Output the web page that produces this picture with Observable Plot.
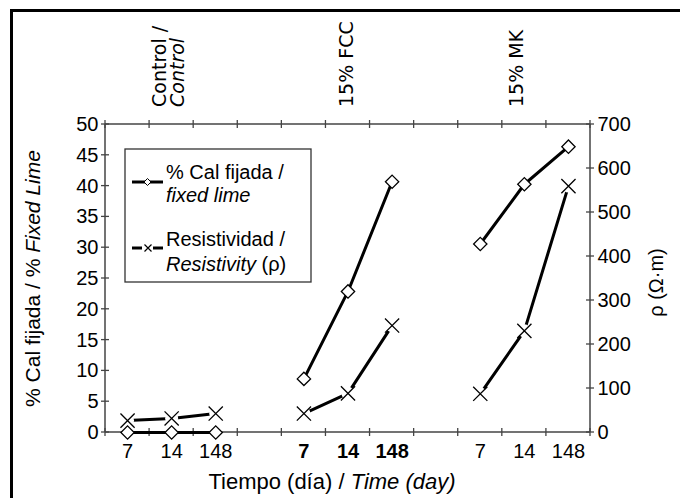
<!DOCTYPE html>
<html>
<head>
<meta charset="utf-8">
<script src="https://cdn.jsdelivr.net/npm/d3@7"></script>
<script src="https://cdn.jsdelivr.net/npm/@observablehq/plot@0.6"></script>
<style>
  html, body { margin: 0; padding: 0; background: #fff; }
  #wrap { position: relative; width: 680px; height: 498px; overflow: hidden; }
  #bt { position: absolute; left: 10px; top: 9px; right: 0; height: 3px; background: #000; }
  #bl { position: absolute; left: 10px; top: 9px; width: 3px; bottom: 0; background: #000; }
  svg text { font-family: "Liberation Sans", Arial, sans-serif; }
</style>
</head>
<body>
<div id="wrap"><div id="bt"></div><div id="bl"></div></div>
<script>
// ---- data ----
const groups = ["Control", "15% FCC", "15% MK"];
const days = ["7", "14", "148"];
const fixedLime = [[0, 0, 0], [8.7, 22.9, 40.7], [30.6, 40.3, 46.4]];      // %
const resistivity = [[27, 32, 43], [43, 89, 243], [88, 231, 560]];         // Ω·m
const leftTicks = [0, 5, 10, 15, 20, 25, 30, 35, 40, 45, 50];
const rightTicks = [0, 100, 200, 300, 400, 500, 600, 700];
const groupLabels = [["Control /", "Control"], ["15% FCC"], ["15% MK"]];

// 11 slots: 3 per group, one empty slot between groups
const slot = (g, d) => g * 4 + d + 0.5;
const ratio = 50 / 700;
const rows = [];
groups.forEach((g, gi) => days.forEach((d, di) => {
  rows.push({group: g, gi, day: d, x: slot(gi, di), lime: fixedLime[gi][di], res: resistivity[gi][di] * ratio});
}));
const centers = rows.map(r => r.x);
const labelOf = new Map(rows.map(r => [r.x, r.day]));

const W = 680, H = 498, FS = 20;
const ns = "http://www.w3.org/2000/svg";
function el(tag, attrs, text) {
  const e = document.createElementNS(ns, tag);
  for (const k in attrs) e.setAttribute(k, attrs[k]);
  if (text != null) e.textContent = text;
  return e;
}

// frame with crossing ticks
const frameMark = (index, scales, values, dim) => {
  const g = el("g", {});
  const x0 = dim.marginLeft, x1 = dim.width - dim.marginRight;
  const y0 = dim.marginTop, y1 = dim.height - dim.marginBottom;
  const col = "#444";
  const line = (a, b, c, d, w = 1.5) => g.appendChild(el("line", {x1: a, y1: b, x2: c, y2: d, stroke: col, "stroke-width": w}));
  line(x0, y0, x1, y0); line(x0, y1, x1, y1); line(x0, y0, x0, y1); line(x1, y0, x1, y1);
  for (let i = 0; i <= 11; i++) {
    const px = scales.x(i);
    line(px, y0 - 4, px, y0 + 4, 1.3);
    line(px, y1 - 4, px, y1 + 4, 1.3);
  }
  for (const t of leftTicks) { const py = scales.y(t); line(x0 - 4, py, x0 + 4, py, 1.3); }
  for (const t of rightTicks) { const py = scales.y(t * ratio); line(x1 - 4, py, x1 + 4, py, 1.3); }
  return g;
};

// group labels (rotated) above the plot, centred over each group's middle slot
const groupLabelMark = (index, scales) => {
  const g = el("g", {"font-size": 19, fill: "#000", "text-anchor": "start"});
  const offs = [-3, -2, -8];
  groupLabels.forEach((lines, gi) => {
    const xc = scales.x(slot(gi, 1)) + offs[gi];
    lines.forEach((t, li) => {
      const cx = xc + (li - (lines.length - 1) / 2) * 17.5;
      const tx = el("text", {transform: `translate(${cx + 7},107) rotate(-90)`, "text-anchor": "start",
        style: "font-family: 'DejaVu Sans', Verdana, sans-serif"}, t);
      if (li === 1) tx.setAttribute("font-style", "italic");
      g.appendChild(tx);
    });
  });
  return g;
};

// legend box
const legendMark = () => {
  const g = el("g", {"font-size": FS, "text-anchor": "start"});
  g.appendChild(el("rect", {x: 125, y: 149, width: 186, height: 133, fill: "#fff", stroke: "#333", "stroke-width": 1.3}));
  g.appendChild(el("line", {x1: 132, y1: 182, x2: 163, y2: 182, stroke: "#000", "stroke-width": 3}));
  g.appendChild(el("path", {d: "M147.5,178.5 L151,182 L147.5,185.5 L144,182 Z", fill: "#fff", stroke: "#000", "stroke-width": 1}));
  g.appendChild(el("line", {x1: 132, y1: 248, x2: 142, y2: 248, stroke: "#000", "stroke-width": 3}));
  g.appendChild(el("line", {x1: 153, y1: 248, x2: 163, y2: 248, stroke: "#000", "stroke-width": 3}));
  g.appendChild(el("path", {d: "M144.5,244.5 L151.5,251.5 M151.5,244.5 L144.5,251.5", stroke: "#000", "stroke-width": 1.2}));
  g.appendChild(el("text", {x: 166, y: 179, "text-anchor": "start"}, "% Cal fijada /"));
  g.appendChild(el("text", {x: 166, y: 202, "text-anchor": "start", "font-style": "italic"}, "fixed lime"));
  g.appendChild(el("text", {x: 166, y: 246, "text-anchor": "start"}, "Resistividad /"));
  const t = el("text", {x: 166, y: 271, "text-anchor": "start"});
  t.appendChild(el("tspan", {"font-style": "italic"}, "Resistivity"));
  t.appendChild(el("tspan", {}, " (ρ)"));
  g.appendChild(t);
  return g;
};

const chart = Plot.plot({
  width: W, height: H,
  marginLeft: 105, marginRight: 90, marginTop: 124, marginBottom: 66,
  style: {fontFamily: "Liberation Sans, Arial, sans-serif", fontSize: FS + "px", color: "#000", background: "transparent", overflow: "visible"},
  x: {type: "linear", domain: [0, 11]},
  y: {domain: [0, 50]},
  marks: [
    frameMark,
    Plot.axisY({ticks: leftTicks, tickSize: 0, tickPadding: 7, label: null, fontSize: FS}),
    Plot.axisY({anchor: "right", ticks: rightTicks.map(v => v * ratio), tickFormat: d => Math.round(d / ratio), tickSize: 0, tickPadding: 7, label: null, fontSize: FS}),
    Plot.axisX({ticks: centers, tickFormat: d => labelOf.get(d), tickSize: 0, tickPadding: 11, label: null, fontSize: FS}),
    Plot.line(rows, {x: "x", y: "res", z: "group", stroke: "#000", strokeWidth: 3}),
    Plot.dot(rows, {x: "x", y: "res", r: 6.5, fill: "#fff", stroke: "none"}),
    Plot.dot(rows, {x: "x", y: "res", symbol: "times", r: 6.5, stroke: "#000", strokeWidth: 1.3}),
    Plot.line(rows, {x: "x", y: "lime", z: "group", stroke: "#000", strokeWidth: 3}),
    Plot.dot(rows, {x: "x", y: "lime", symbol: "diamond2", r: 6, fill: "#fff", stroke: "#000", strokeWidth: 1.3}),
    Plot.text(["% Cal fijada / % Fixed Lime"], {frameAnchor: "left", textAnchor: "middle", dx: -72, rotate: -90, fontSize: 21}),
    Plot.text(["ρ (Ω·m)"], {frameAnchor: "right", textAnchor: "middle", dx: 66, dy: 4, rotate: -90, fontSize: 20}),
    groupLabelMark,
    legendMark
  ]
});
document.getElementById("wrap").appendChild(chart);
chart.style.position = "absolute"; chart.style.left = "0"; chart.style.top = "0";

// bold FCC tick labels; italic part of x title
const tickTexts = chart.querySelectorAll("g[aria-label='x-axis tick label'] text");
tickTexts.forEach((t, i) => { if (i >= 3 && i < 6) t.setAttribute("font-weight", "bold"); });
const xt = el("text", {x: 332, y: 489, "text-anchor": "middle", "font-size": 22});
xt.appendChild(el("tspan", {}, "Tiempo (día) / "));
xt.appendChild(el("tspan", {"font-style": "italic"}, "Time (day)"));
chart.appendChild(xt);
// italic part of left y title
const yl = [...chart.querySelectorAll("text")].find(t => t.textContent === "% Cal fijada / % Fixed Lime");
if (yl) { yl.textContent = ""; yl.appendChild(el("tspan", {}, "% Cal fijada / % ")); yl.appendChild(el("tspan", {"font-style": "italic"}, "Fixed Lime")); }
</script>
</body>
</html>
